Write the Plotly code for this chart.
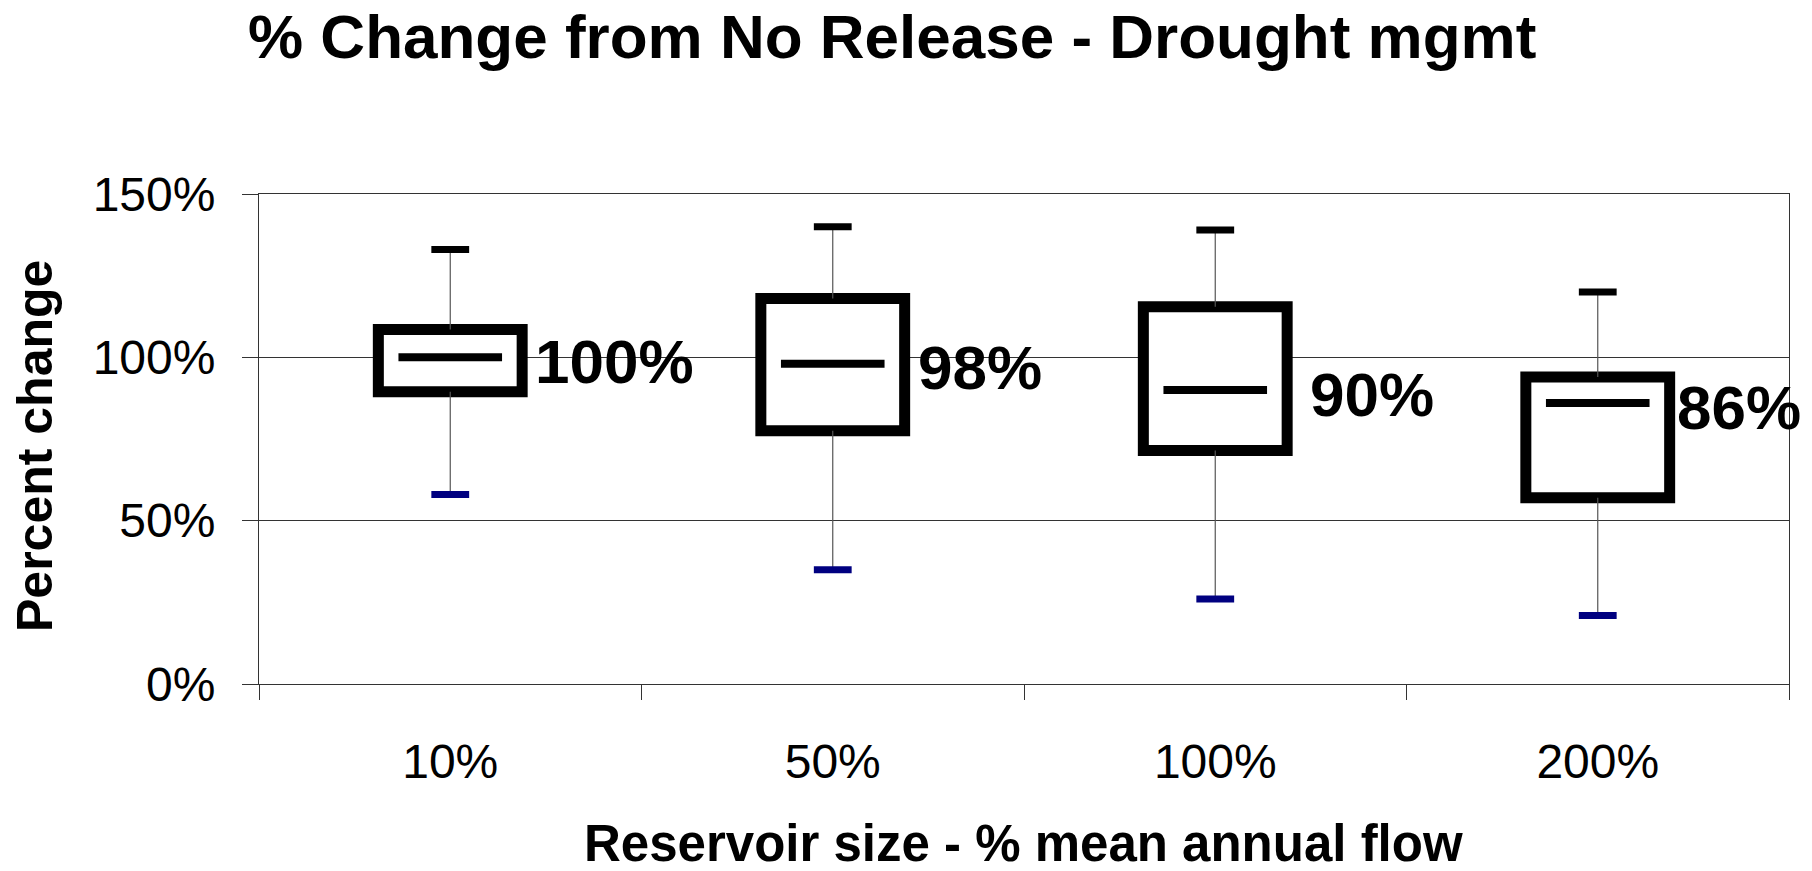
import plotly.graph_objects as go

# Reservoir size categories (% of mean annual flow)
categories = ["10%", "50%", "100%", "200%"]

# Percent change from no-release, per reservoir size
whisker_high = [133, 140, 139, 120]
upper_quart = [108.5, 118, 115.5, 94]
median = [100, 98, 90, 86]
lower_quart = [89.5, 77.5, 71.5, 57]
whisker_low = [58, 35, 26, 21]

median_labels = ["100%", "98%", "90%", "86%"]
y_ticks = [0, 50, 100, 150]
y_tick_labels = ["0%", "50%", "100%", "150%"]

FONT = "Liberation Sans, Arial, sans-serif"
W, H = 1812, 871
L, R, T, B = 259, 1789, 194, 684


def px_x(px):
    return (px - L) / (R - L)


def px_y(py):
    return (B - py) / (B - T)


fig = go.Figure()

# Interquartile boxes: white fill, heavy black outline
fig.add_trace(go.Bar(
    x=categories,
    base=lower_quart,
    y=[u - l for u, l in zip(upper_quart, lower_quart)],
    width=0.376,
    marker=dict(color="white", line=dict(color="black", width=11)),
    hoverinfo="skip",
))

# Whisker stems, drawn outside the box only
wx, wy = [], []
for c, lo, q1, q3, hi in zip(categories, whisker_low, lower_quart, upper_quart, whisker_high):
    wx += [c, c, None, c, c, None]
    wy += [lo, q1, None, q3, hi, None]
fig.add_trace(go.Scatter(
    x=wx, y=wy, mode="lines",
    line=dict(color="#555555", width=1.2),
    hoverinfo="skip",
))

# Median bars
fig.add_trace(go.Scatter(
    x=categories, y=median, mode="markers",
    marker=dict(symbol="line-ew-open", size=74, color="black",
                line=dict(color="black", width=8)),
    hoverinfo="skip",
))

# Whisker caps: black on top, navy at the bottom
fig.add_trace(go.Scatter(
    x=categories, y=whisker_high, mode="markers",
    marker=dict(symbol="line-ew-open", size=27, color="black",
                line=dict(color="black", width=7)),
    hoverinfo="skip",
))
fig.add_trace(go.Scatter(
    x=categories, y=whisker_low, mode="markers",
    marker=dict(symbol="line-ew-open", size=27, color="#000080",
                line=dict(color="#000080", width=7)),
    hoverinfo="skip",
))

annotations = []

# Median value labels to the right of each box
label_shift = [83, 83, 93, 77]
for c, m, txt, sh in zip(categories, median, median_labels, label_shift):
    annotations.append(dict(
        x=c, y=m, xref="x", yref="y", text=txt, showarrow=False,
        xanchor="left", yanchor="middle", xshift=sh, yshift=-4,
        font=dict(family=FONT, size=62, color="black", weight="bold"),
    ))

# Chart title
annotations.append(dict(
    x=px_x(892), y=px_y(37), xref="paper", yref="paper",
    text="% Change from No Release - Drought mgmt", showarrow=False,
    xanchor="center", yanchor="middle",
    font=dict(family=FONT, size=62, color="black", weight="bold"),
))

# Axis titles
annotations.append(dict(
    x=px_x(1023), y=px_y(843), xref="paper", yref="paper",
    text="Reservoir size - % mean annual flow", showarrow=False,
    xanchor="center", yanchor="middle",
    font=dict(family=FONT, size=51, color="black", weight="bold"),
))
annotations.append(dict(
    x=px_x(35), y=px_y(446), xref="paper", yref="paper",
    text="Percent change", showarrow=False, textangle=-90,
    xanchor="center", yanchor="middle",
    font=dict(family=FONT, size=50, color="black", weight="bold"),
))

fig.update_layout(
    width=W, height=H,
    margin=dict(l=L, r=W - R, t=T, b=H - B, pad=0),
    paper_bgcolor="white", plot_bgcolor="white",
    showlegend=False,
    annotations=annotations,
    xaxis=dict(
        type="category", tickson="boundaries",
        ticks="outside", ticklen=15, tickwidth=1, tickcolor="#333333",
        showline=True, linecolor="#333333", linewidth=1, mirror=True,
        showgrid=False, ticklabelstandoff=35,
        tickfont=dict(family=FONT, size=48, color="black"),
        range=[-0.5, 3.5],
    ),
    yaxis=dict(
        range=[0, 150], tickmode="array", tickvals=y_ticks, ticktext=y_tick_labels,
        ticks="outside", ticklen=16, tickwidth=1, tickcolor="#333333",
        showline=True, linecolor="#333333", linewidth=1, mirror=True,
        showgrid=True, gridcolor="#333333", gridwidth=1, zeroline=False,
        ticklabelstandoff=17,
        tickfont=dict(family=FONT, size=48, color="black"),
    ),
)

fig.write_html("out.html")
